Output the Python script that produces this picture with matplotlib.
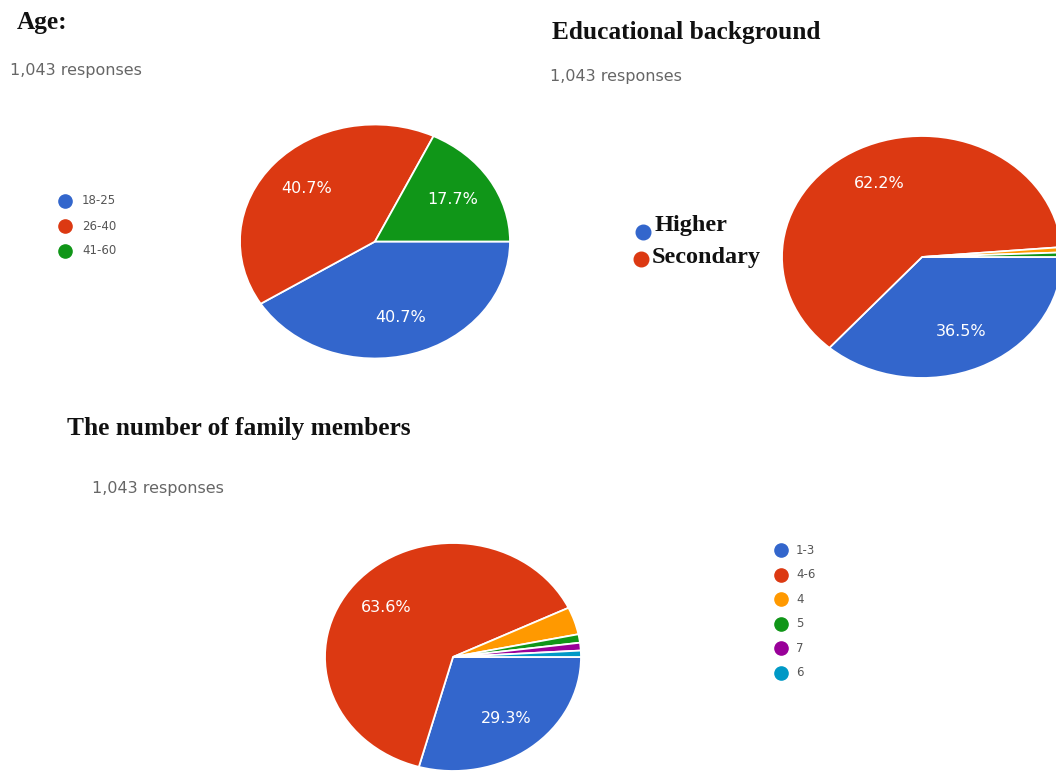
import matplotlib.pyplot as plt

# chart data
age_labels = ['18-25', '26-40', '41-60']
age_vals = [40.7, 40.7, 17.7]
age_colors = ['#3366cc', '#dc3912', '#109618']

edu_labels = ['Higher', 'Secondary']
edu_vals = [36.5, 62.2, 0.7, 0.6]
edu_colors = ['#3366cc', '#dc3912', '#ff9900', '#109618']

fam_labels = ['1-3', '4-6', '4', '5', '7', '6']
fam_vals = [29.3, 63.6, 3.9, 1.2, 1.1, 0.9]
fam_colors = ['#3366cc', '#dc3912', '#ff9900', '#109618', '#990099', '#0099c6']

responses = '1,043 responses'

W, H = 1056, 771
fig = plt.figure(figsize=(W / 100, H / 100), dpi=100)
fig.patch.set_facecolor('white')


def draw_pie(vals, colors, cx, cy, rx, ry):
    ax = fig.add_axes([(cx - rx) / W, 1 - (cy + ry) / H, 2 * rx / W, 2 * ry / H])
    wedges, texts, autotexts = ax.pie(
        vals, colors=colors, startangle=0, counterclock=False,
        autopct='%1.1f%%', pctdistance=0.68,
        wedgeprops=dict(edgecolor='white', linewidth=1.3),
        textprops=dict(color='white', fontsize=11.5, family='DejaVu Sans'))
    for t, v in zip(autotexts, vals):
        t.set_text(f'{v:.1f}%' if v > 5 else '')
    ax.set_aspect('auto')
    ax.set_xlim(-1, 1)
    ax.set_ylim(-1, 1)
    ax.axis('off')
    return ax


draw_pie(age_vals, age_colors, 375, 241.5, 135, 117)
draw_pie(edu_vals, edu_colors, 922, 257, 140, 121)
draw_pie(fam_vals, fam_colors, 453, 657, 128, 114)

# overlay in pixel coordinates for titles and legends
ov = fig.add_axes([0, 0, 1, 1])
ov.set_xlim(0, W)
ov.set_ylim(H, 0)
ov.axis('off')

title_kw = dict(family='Liberation Serif', fontweight='bold', color='#111111',
                fontsize=18.3, va='center', ha='left')
resp_kw = dict(family='DejaVu Sans', color='#666666', fontsize=11.5,
               va='center', ha='left')

ov.text(17, 23, 'Age:', **title_kw)
ov.text(552, 32, 'Educational background', **title_kw)
ov.text(67, 429, 'The number of family members', **title_kw)
ov.text(10, 71, responses, **resp_kw)
ov.text(550, 77, responses, **resp_kw)
ov.text(92, 489, responses, **resp_kw)

# age legend
for i, (lab, col) in enumerate(zip(age_labels, age_colors)):
    y = 201 + i * 25
    ov.plot(65, y, 'o', color=col, ms=9.5)
    ov.text(82, y, lab, color='#555555', fontsize=8.5, family='DejaVu Sans',
            va='center', ha='left')

# family legend
for i, (lab, col) in enumerate(zip(fam_labels, fam_colors)):
    y = 550 + i * 24.6
    ov.plot(781, y, 'o', color=col, ms=9.5)
    ov.text(796, y, lab, color='#555555', fontsize=8.5, family='DejaVu Sans',
            va='center', ha='left')

# education legend
edu_pos = [(643, 232, 655, 225), (641, 259, 652, 257)]
for lab, col, (mx, my, tx, ty) in zip(edu_labels, edu_colors, edu_pos):
    ov.plot(mx, my, 'o', color=col, ms=10.5)
    ov.text(tx, ty, lab, family='Liberation Serif', fontweight='bold',
            color='#111111', fontsize=17.5, va='center', ha='left')

fig.savefig('out.png', dpi=100)
